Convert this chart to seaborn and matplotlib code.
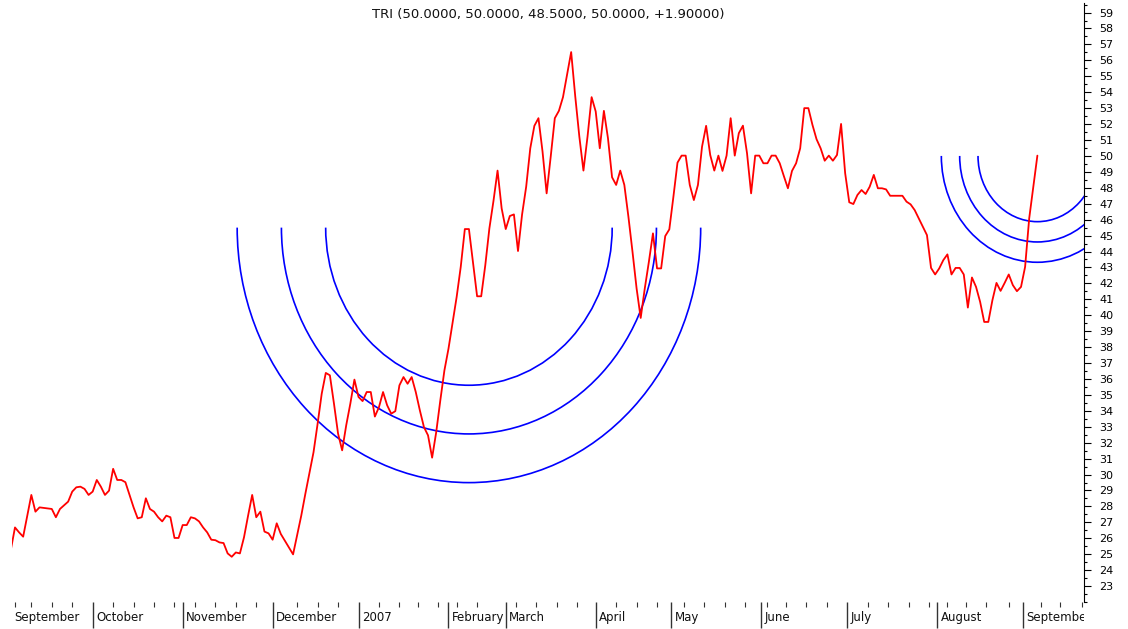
import numpy as np
import pandas as pd
import seaborn as sns
import matplotlib
matplotlib.use("Agg")
import matplotlib.pyplot as plt
from matplotlib.patches import Arc
from matplotlib.transforms import Bbox, TransformedBbox

# trading day index and close
day = [0, 1, 2, 3, 5, 6, 7, 10, 11, 12,
       14, 15, 16, 17, 18, 19, 20, 21, 22, 23,
       24, 25, 26, 27, 28, 30, 31, 32, 33, 34,
       35, 36, 37, 38, 39, 40, 41, 42, 43, 44,
       45, 46, 47, 48, 49, 50, 51, 52, 53, 54,
       55, 56, 57, 58, 59, 60, 61, 62, 63, 64,
       65, 66, 69, 71, 72, 73, 74, 75, 76, 77,
       78, 79, 80, 81, 82, 83, 84, 85, 86, 87,
       88, 89, 90, 91, 92, 93, 94, 95, 96, 97,
       98, 99, 100, 101, 102, 103, 104, 105, 106, 107,
       109, 110, 111, 112, 114, 115, 116, 117, 118, 119,
       120, 121, 122, 123, 124, 125, 126, 127, 128, 129,
       130, 131, 132, 133, 134, 135, 136, 137, 138, 139,
       140, 141, 142, 143, 144, 145, 146, 147, 148, 149,
       150, 151, 152, 153, 154, 155, 156, 157, 158, 159,
       160, 161, 162, 163, 164, 165, 166, 167, 168, 169,
       170, 171, 172, 173, 174, 175, 176, 177, 178, 179,
       180, 181, 182, 183, 184, 185, 186, 187, 188, 189,
       190, 191, 192, 193, 194, 195, 196, 197, 198, 199,
       200, 201, 202, 203, 204, 205, 206, 207, 208, 209,
       210, 211, 212, 213, 214, 215, 218, 219, 220, 221,
       222, 223, 224, 225, 226, 227, 228, 229, 230, 231,
       232, 233, 234, 235, 236, 237, 238, 239, 240, 241,
       242, 243, 244, 245, 246, 247, 248, 249, 251]
close = [25.3, 26.68, 26.37, 26.1, 28.72, 27.67, 27.94, 27.84, 27.32, 27.84,
         28.3, 28.93, 29.2, 29.24, 29.1, 28.72, 28.93, 29.66, 29.24, 28.72,
         28.99, 30.36, 29.66, 29.66, 29.52, 27.94, 27.25, 27.32, 28.51, 27.84,
         27.67, 27.32, 27.06, 27.42, 27.32, 26.02, 26.02, 26.83, 26.83, 27.32,
         27.25, 27.06, 26.68, 26.37, 25.91, 25.88, 25.74, 25.7, 25.05, 24.84,
         25.11, 25.05, 26.06, 27.42, 28.72, 27.32, 27.67, 26.42, 26.31, 25.91,
         26.94, 26.27, 24.99, 27.42, 28.79, 30.1, 31.4, 33.19, 35.07, 36.38,
         36.23, 34.45, 32.57, 31.52, 33.1, 34.45, 35.96, 34.87, 34.61, 35.18,
         35.18, 33.64, 34.23, 35.18, 34.35, 33.82, 33.98, 35.6, 36.12, 35.7,
         36.12, 35.18, 34.03, 32.98, 32.46, 31.06, 32.66, 34.65, 36.53, 37.9,
         41.15, 43.04, 45.41, 45.41, 41.19, 41.19, 43.14, 45.45, 47.17, 49.08,
         46.71, 45.41, 46.23, 46.33, 44.03, 46.33, 48.07, 50.48, 51.89, 52.37,
         50.27, 47.65, 49.96, 52.37, 52.83, 53.69, 55.09, 56.52, 53.73, 51.21,
         49.08, 51.21, 53.69, 52.79, 50.48, 52.83, 51.11, 48.66, 48.18, 49.08,
         48.18, 46.18, 43.98, 41.68, 39.83, 41.68, 43.35, 45.14, 42.94, 42.94,
         44.97, 45.39, 47.44, 49.58, 50.02, 50.02, 48.18, 47.23, 48.18, 50.58,
         51.89, 50.06, 49.08, 50.02, 49.06, 50.02, 52.37, 50.02, 51.43, 51.9,
         50.17, 47.65, 50.02, 50.02, 49.54, 49.54, 50.02, 50.02, 49.54, 48.74,
         47.97, 49.06, 49.54, 50.48, 53.0, 53.0, 51.95, 51.05, 50.48, 49.7,
         50.02, 49.7, 50.06, 52.01, 48.91, 47.09, 46.98, 47.55, 47.86, 47.61,
         48.07, 48.81, 47.97, 47.97, 47.9, 47.5, 47.5, 47.13, 46.96, 46.6,
         46.08, 45.55, 45.03, 42.97, 42.56, 42.94, 43.46, 43.82, 42.56, 42.97,
         42.97, 42.56, 40.48, 42.37, 41.78, 40.84, 39.58, 39.58, 40.94, 42.03,
         41.53, 42.03, 42.56, 41.89, 41.51, 41.78, 43.04, 46.08, 50.02]
assert len(day) == len(close)

# fibonacci arcs: two sets (centre day, centre price, base radius in days / price)
arc_day = [112, 251]
arc_price = [45.5, 50.0]
arc_base_days = [91.7, 38.0]
arc_base_price = [25.9, 10.8]
fib_ratios = [0.382, 0.5, 0.618]

month_days = [0, 20, 42, 64, 85, 107, 121, 143, 161.5, 183.5, 204.5, 226.5, 247.5]
month_labels = ["September", "October", "November", "December", "2007", "February",
                "March", "April", "May", "June", "July", "August", "September"]
week_days = [1, 5, 10, 15, 25, 30, 35, 40, 45, 50, 55, 60, 70, 75, 80, 90, 95, 99.5,
             104.5, 109, 114, 123.5, 128.5, 133.5, 138.5, 148, 153, 158, 164.5, 169.5,
             174.5, 179.5, 185, 189.5, 194.5, 199.5, 209.5, 214.5, 219.5, 224.5, 229,
             233.5, 238.5, 244, 252, 256.5, 262]
title = "TRI (50.0000, 50.0000, 48.5000, 50.0000, +1.90000)"

sns.set_style("white")
plt.rcParams['font.family'] = ['DejaVu Sans']

df = pd.DataFrame({"day": day, "close": close})

fig = plt.figure(figsize=(11.28, 6.29), dpi=100)
ax = fig.add_axes([12 / 1128, 27 / 629, 1072 / 1128, 599 / 629])

sns.lineplot(data=df, x="day", y="close", color="#ff0000", lw=1.3,
             estimator=None, sort=False, ax=ax)

for cx, cy, bx, by in zip(arc_day, arc_price, arc_base_days, arc_base_price):
    for r in fib_ratios:
        ax.add_patch(Arc((cx, cy), 2 * bx * r, 2 * by * r, theta1=180, theta2=360,
                         color="#0000ff", lw=1.2))

ax.set_xlim(0.27, 262.4)
ax.set_ylim(22.0, 59.6)
ax.set_xlabel("")
ax.set_ylabel("")

for s in ["top", "left", "bottom"]:
    ax.spines[s].set_visible(False)
ax.spines["right"].set_color("black")
ax.spines["right"].set_linewidth(0.8)

# y axis on the right
ax.yaxis.tick_right()
ax.set_yticks(range(23, 60))
ax.set_yticks(np.arange(22, 59.6, 0.5), minor=True)
ax.tick_params(axis="y", which="both", right=True, left=False)
ax.tick_params(axis="y", which="major", direction="out", length=5, width=0.8,
               pad=6, labelsize=8, colors="black")
ax.tick_params(axis="y", which="minor", direction="out", length=2, width=0.8, colors="black")

# x axis: month ticks long (first month sits on the left edge, no tick), weekly ticks short
ax.set_xticks(month_days[1:])
ax.set_xticklabels([""] * len(month_days[1:]))
ax.set_xticks(week_days, minor=True)
ax.tick_params(axis="x", which="both", bottom=True, top=False)
ax.tick_params(axis="x", which="major", direction="out", length=18.5, width=1.0,
               colors="#333333")
ax.tick_params(axis="x", which="minor", direction="out", length=3.5, width=0.8,
               colors="#333333")

clip = TransformedBbox(Bbox.from_extents(0, 0, 1084 / 1128, 1), fig.transFigure)
for d, lab in zip(month_days, month_labels):
    t = ax.annotate(lab, xy=(d, 0), xycoords=("data", "axes fraction"),
                    xytext=(2.5, -11.5), textcoords="offset points",
                    ha="left", va="center", fontsize=8.5, color="#111111",
                    annotation_clip=False)
    t.set_clip_box(clip)
    t.set_clip_on(True)

ax.text(0.5, 0.98, title, transform=ax.transAxes, ha="center", va="center",
        fontsize=9.5, color="#111111")

fig.savefig("out.png", dpi=100)
